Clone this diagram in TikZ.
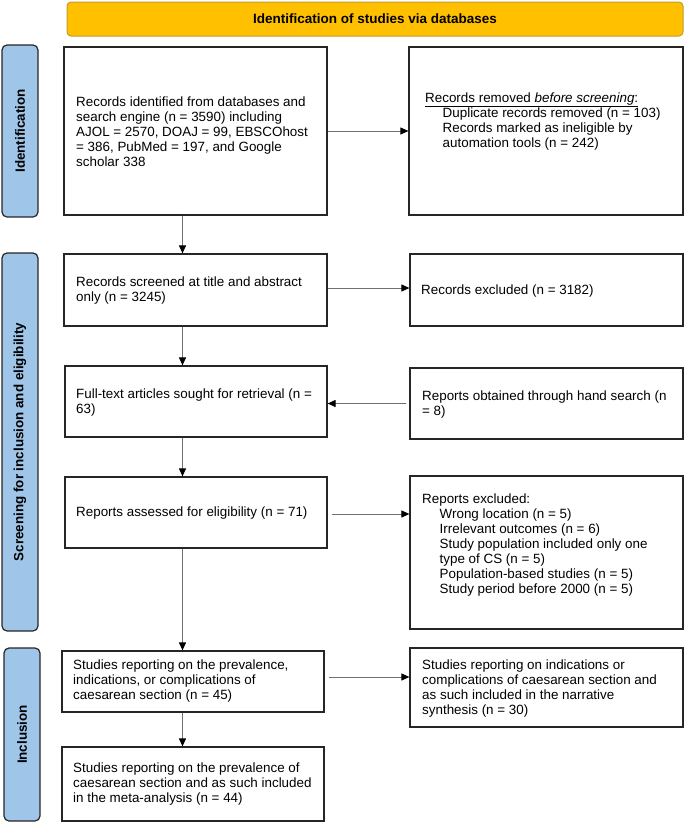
\documentclass[tikz,border=0pt]{standalone}
\usepackage{fontspec}
\setmainfont{Liberation Sans}
\usetikzlibrary{arrows.meta,calc}
\definecolor{bannerfill}{HTML}{FFC000}
\definecolor{bannerline}{HTML}{C49A2C}
\definecolor{labfill}{HTML}{9FC5E8}
\definecolor{boxline}{HTML}{262626}
\definecolor{arrline}{HTML}{707070}
\newcommand\ind{\hspace*{17.5pt}}
\begin{document}
\begin{tikzpicture}[x=1pt,y=-1pt,
  box/.style={draw=boxline, line width=1.2pt, inner sep=0pt},
  txt/.style={align=left, inner sep=0pt, anchor=west, font=\fontsize{13.4}{15}\selectfont},
  lab/.style={draw=boxline, line width=1.2pt, fill=labfill, rounded corners=5pt, inner sep=0pt, minimum width=36pt},
  labtxt/.style={rotate=90, font=\fontsize{13.4}{15}\selectfont\bfseries},
  arr/.style={draw=arrline, line width=1pt, -{Triangle[length=8pt,width=7pt,color=black]}}
]
\useasboundingbox (0,0) rectangle (685,823);
% banner
\node[draw=bannerline, line width=1pt, fill=bannerfill, rounded corners=4pt, minimum width=616pt, minimum height=34pt, inner sep=0pt,
      font=\fontsize{13.5}{15}\selectfont\bfseries] (banner) at (375,19) {Identification of studies via databases};
% side labels
\node[lab, minimum height=172pt] (labId) at (20,131) {};
\node[labtxt] (labIdt) at (labId.center) {Identification};
\node[lab, minimum height=378pt] (labScr) at (20,442) {};
\node[labtxt] (labScrt) at (labScr.center) {Screening for inclusion and eligibility};
\node[lab, minimum height=173pt] (labInc) at (22,734.5) {};
\node[labtxt] (labInct) at (labInc.center) {Inclusion};
% boxes
\node[box, minimum width=263pt, minimum height=168pt] (B1) at (195.5,131) {};
\node[box, minimum width=274pt, minimum height=168pt] (Brem) at (546,131) {};
\node[box, minimum width=263pt, minimum height=72pt] (Bscr) at (195.5,290) {};
\node[box, minimum width=273pt, minimum height=72pt] (Bexc) at (546.5,290) {};
\node[box, minimum width=262pt, minimum height=71pt] (Bfull) at (196,401.5) {};
\node[box, minimum width=273pt, minimum height=71pt] (Bhand) at (546.5,403.5) {};
\node[box, minimum width=262pt, minimum height=71pt] (Bass) at (196,512.5) {};
\node[box, minimum width=273pt, minimum height=153pt] (Brex) at (546.5,552.5) {};
\node[box, minimum width=262pt, minimum height=61pt] (B45) at (193,681.5) {};
\node[box, minimum width=273pt, minimum height=79pt] (Bnar) at (546.5,687.5) {};
\node[box, minimum width=262pt, minimum height=74pt] (B44) at (193,784) {};
% texts
\node[txt] (B1t) at (76,132) {Records identified from databases and\\search engine (n = 3590) including\\AJOL = 2570, DOAJ = 99, EBSCOhost\\= 386, PubMed = 197, and Google\\scholar 338};
\node[txt] (Bremt) at (425,121.5) {\underline{Records removed \textit{before screening}:}\\\ind Duplicate records removed (n = 103)\\\ind Records marked as ineligible by\\\ind automation tools (n = 242)};
\node[txt] (Bscrt) at (76,290.5) {Records screened at title and abstract\\only (n = 3245)};
\node[txt] (Bexct) at (421,291.5) {Records excluded (n = 3182)};
\node[txt] (Bfullt) at (76,402.5) {Full-text articles sought for retrieval (n =\\63)};
\node[txt] (Bhandt) at (422,404.5) {Reports obtained through hand search (n\\= 8)};
\node[txt] (Basst) at (76,513) {Reports assessed for eligibility (n = 71)};
\node[txt] (Brext) at (422,545.5) {Reports excluded:\\\ind Wrong location (n = 5)\\\ind Irrelevant outcomes (n = 6)\\\ind Study population included only one\\\ind type of CS (n = 5)\\\ind Population-based studies (n = 5)\\\ind Study period before 2000 (n = 5)};
\node[txt] (B45t) at (73,681.5) {Studies reporting on the prevalence,\\indications, or complications of\\caesarean section (n = 45)};
\node[txt] (Bnart) at (422,688.5) {Studies reporting on indications or\\complications of caesarean section and\\as such included in the narrative\\synthesis (n = 30)};
\node[txt] (B44t) at (73,784) {Studies reporting on the prevalence of\\caesarean section and as such included\\in the meta-analysis (n = 44)};
% connectors
\coordinate (vx) at (182.5,0);
\draw[arr] (B1.east) -- (B1.east -| Brem.west);
\draw[arr] (B1.south -| vx) -- (Bscr.north -| vx);
\draw[arr] ([yshift=2pt]Bscr.east) -- ([yshift=2pt]Bscr.east -| Bexc.west);
\draw[arr] (Bscr.south -| vx) -- (Bfull.north -| vx);
\draw[arr] ([xshift=-3pt]Bhand.west) -- (Bhand.west -| Bfull.east);
\draw[arr] (Bfull.south -| vx) -- (Bass.north -| vx);
\draw[arr] ([xshift=4pt,yshift=-1.5pt]Bass.east) -- ([yshift=-1.5pt]Bass.east -| Brex.west);
\draw[arr] (Bass.south -| vx) -- (B45.north -| vx);
\draw[arr] ([xshift=4pt,yshift=4.5pt]B45.east) -- ([yshift=4.5pt]B45.east -| Bnar.west);
\draw[arr] (B45.south -| vx) -- (B44.north -| vx);
\end{tikzpicture}
\end{document}
